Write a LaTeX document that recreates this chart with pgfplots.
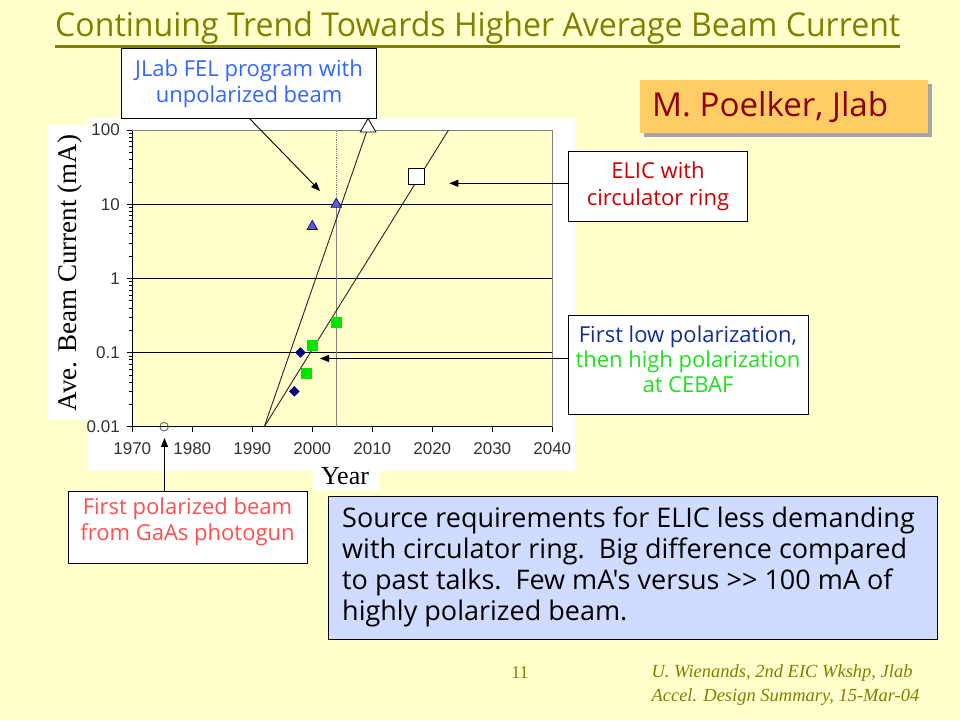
\documentclass[border=0pt]{standalone}
\usepackage{pgfplots}
\pgfplotsset{compat=1.18}
\usepackage{fontspec}
\setmainfont{Liberation Serif}
\newfontfamily\arial{Liberation Sans}
\newfontfamily\comic{Open Sans}
\usetikzlibrary{arrows.meta}

\definecolor{slidebg}{RGB}{255,255,204}
\definecolor{plotbg}{RGB}{255,255,204}
\definecolor{olivetxt}{RGB}{128,128,0}
\definecolor{jlabblue}{RGB}{51,102,255}
\definecolor{elicred}{RGB}{204,0,0}
\definecolor{cebafblue}{RGB}{16,48,144}
\definecolor{cebafgreen}{RGB}{32,224,32}
\definecolor{gaasred}{RGB}{255,80,80}
\definecolor{poelkerfill}{RGB}{255,204,102}
\definecolor{poelkertxt}{RGB}{140,0,0}
\definecolor{notefill}{RGB}{208,220,255}
\definecolor{navymark}{RGB}{0,0,128}
\definecolor{trifill}{RGB}{96,96,192}
\definecolor{tridraw}{RGB}{0,0,160}
\definecolor{greenmark}{RGB}{0,230,0}

\newcommand{\ticksize}{\fontsize{17}{17}\selectfont}
\newcommand{\callsize}{\fontsize{22}{26}\selectfont}

\tikzset{
  callout/.style={draw=black, fill=white, line width=0.8pt},
  pointer/.style={-{Triangle[length=9pt,width=7pt]}, line width=0.9pt, black},
}

\begin{document}
\begin{tikzpicture}[x=1pt,y=1pt]
\path[use as bounding box, fill=slidebg] (0,0) rectangle (960,720);

% title
\node[anchor=base west, text=olivetxt, inner sep=0pt] at (55,683)
  {\resizebox{845pt}{25pt}{\comic\fontsize{30}{30}\selectfont Continuing Trend Towards Higher Average Beam Current}};
\draw[olivetxt, line width=2.5pt] (55,673.5) -- (900,673.5);

% chart area
\fill[white] (88,249) rectangle (575,602);
\fill[white] (47,300) rectangle (88,595);
\fill[white] (313,230) rectangle (380,257);

\begin{axis}[
  at={(132.3pt,293.3pt)}, anchor=south west,
  scale only axis, width=420pt, height=296.7pt,
  xmin=1970, xmax=2040,
  ymode=log, ymin=0.01, ymax=100,
  axis x line*=bottom, axis y line*=left,
  axis line style={-, black, line width=0.8pt},
  axis background/.style={fill=plotbg},
  xtick={1970,1980,...,2040},
  xticklabels={1970,1980,1990,2000,2010,2020,2030,2040},
  ytick={0.01,0.1,1,10,100},
  yticklabels={0.01,0.1,1,10,100},
  tick align=outside, major tick length=5pt, minor tick length=3pt,
  tick style={black, line width=0.6pt},
  tick label style={font=\arial\ticksize, text=black!80},
  xticklabel style={yshift=-7pt},
  yticklabel style={xshift=-4pt},
  /pgf/number format/assume math mode=true,
  clip=false,
]
% grid and frame
\draw[black, line width=0.8pt] (axis cs:1970,0.1) -- (axis cs:2040,0.1);
\draw[black, line width=0.8pt] (axis cs:1970,1) -- (axis cs:2040,1);
\draw[black, line width=0.8pt] (axis cs:1970,10) -- (axis cs:2040,10);
\draw[gray, line width=0.8pt] (axis cs:1970,100) -- (axis cs:2040,100) -- (axis cs:2040,0.01);

% 2004 marker line (dotted above 10 mA) and trend lines
\addplot[gray, line width=0.8pt] coordinates {(2004,0.01) (2004,10)};
\addplot[gray, line width=0.8pt, densely dotted] coordinates {(2004,10) (2004,100)};
\addplot[black!85, line width=0.9pt] coordinates {(1992,0.01) (2009.3,108)};
\addplot[black!85, line width=0.9pt] coordinates {(1992,0.01) (2022.7,100)};

% first polarized beam
\addplot[only marks, mark=o, mark size=4.3pt, black!60, line width=0.9pt,
  mark options={fill=white}] coordinates {(1975.3,0.01)};
% low polarization
\addplot[only marks, mark=square*, mark size=3.5pt, navymark,
  mark options={rotate=45}] coordinates {(1997,0.03) (1998,0.1)};
% high polarization
\addplot[only marks, mark=square*, mark size=5pt, greenmark,
  mark options={draw=none}] coordinates {(1999,0.052) (2000,0.125) (2004,0.26)};
% JLab FEL
\addplot[only marks, mark=triangle*, mark size=6pt, line width=0.7pt,
  mark options={draw=tridraw, fill=trifill}] coordinates {(2000,5) (2004,10)};
% ELIC projections
\addplot[only marks, mark=triangle*, mark size=9pt, line width=0.8pt,
  mark options={draw=black, fill=white}] coordinates {(2009.3,108)};
\addplot[only marks, mark=square*, mark size=8pt, line width=0.8pt,
  mark options={draw=black, fill=white}] coordinates {(2017.4,24)};
\end{axis}

% axis titles
\node[rotate=90, font=\fontsize{27}{27}\selectfont] at (70,447) {Ave. Beam Current (mA)};
\node[font=\fontsize{26}{26}\selectfont] at (345,244) {Year};

% JLab FEL callout
\draw[callout] (121.7,601.7) rectangle (376,671.7);
\node[align=center, text=jlabblue, font=\comic\callsize] at (249,636.7)
  {JLab FEL program with\\unpolarized beam};
\draw[pointer] (249,602) -- (320,529);

% Poelker box
\fill[black!35] (644,583) rectangle (932,636);
\fill[poelkerfill] (640,587) rectangle (928,640);
\node[anchor=base west, inner sep=0pt] at (652,603)
  {\resizebox{236pt}{25pt}{\comic\fontsize{30}{30}\selectfont\color{poelkertxt}M. Poelker, Jlab}};

% ELIC callout
\draw[callout] (568.3,499) rectangle (747.3,568.3);
\node[align=center, text=elicred, font=\comic\fontsize{22}{27}\selectfont] at (658,533.5)
  {ELIC with\\circulator ring};
\draw[pointer] (568.3,536.7) -- (449.3,536.7);

% CEBAF callout
\draw[callout] (568.3,305.7) rectangle (808,404.3);
\node[align=center, inner sep=0pt, font=\comic\fontsize{22}{25}\selectfont] at (688,361)
  {\textcolor{cebafblue}{First low polarization,}\\
   \textcolor{cebafgreen}{then high polarization}\\
   \textcolor{cebafgreen}{at CEBAF}};
\draw[pointer] (568.3,361.5) -- (320,361.5);

% GaAs callout
\draw[callout] (68,157) rectangle (307,229);
\node[align=center, text=gaasred, font=\comic\callsize] at (187.5,198)
  {First polarized beam\\from GaAs photogun};
\draw[pointer] (164.5,229) -- (164.5,282);

% note box
\draw[fill=notefill, line width=0.8pt] (328,81) rectangle (937,224);
\node[anchor=north west, align=left, inner sep=0pt, font=\comic\fontsize{27}{31}\selectfont]
  at (342,213)
  {Source requirements for ELIC less demanding\\
   with circulator ring.\ \ Big difference compared\\
   to past talks.\ \ Few mA's versus >> 100 mA of\\
   highly polarized beam.};

% footer
\node[text=olivetxt, font=\fontsize{18}{18}\selectfont] at (520,47) {11};
\node[anchor=west, text=olivetxt, font=\itshape\fontsize{18.5}{18.5}\selectfont] at (648,47)
  {U. Wienands, 2nd EIC Wkshp, Jlab};
\node[anchor=west, text=olivetxt, font=\itshape\fontsize{18.5}{18.5}\selectfont] at (648,23)
  {Accel. Design Summary, 15-Mar-04};
\end{tikzpicture}
\end{document}
